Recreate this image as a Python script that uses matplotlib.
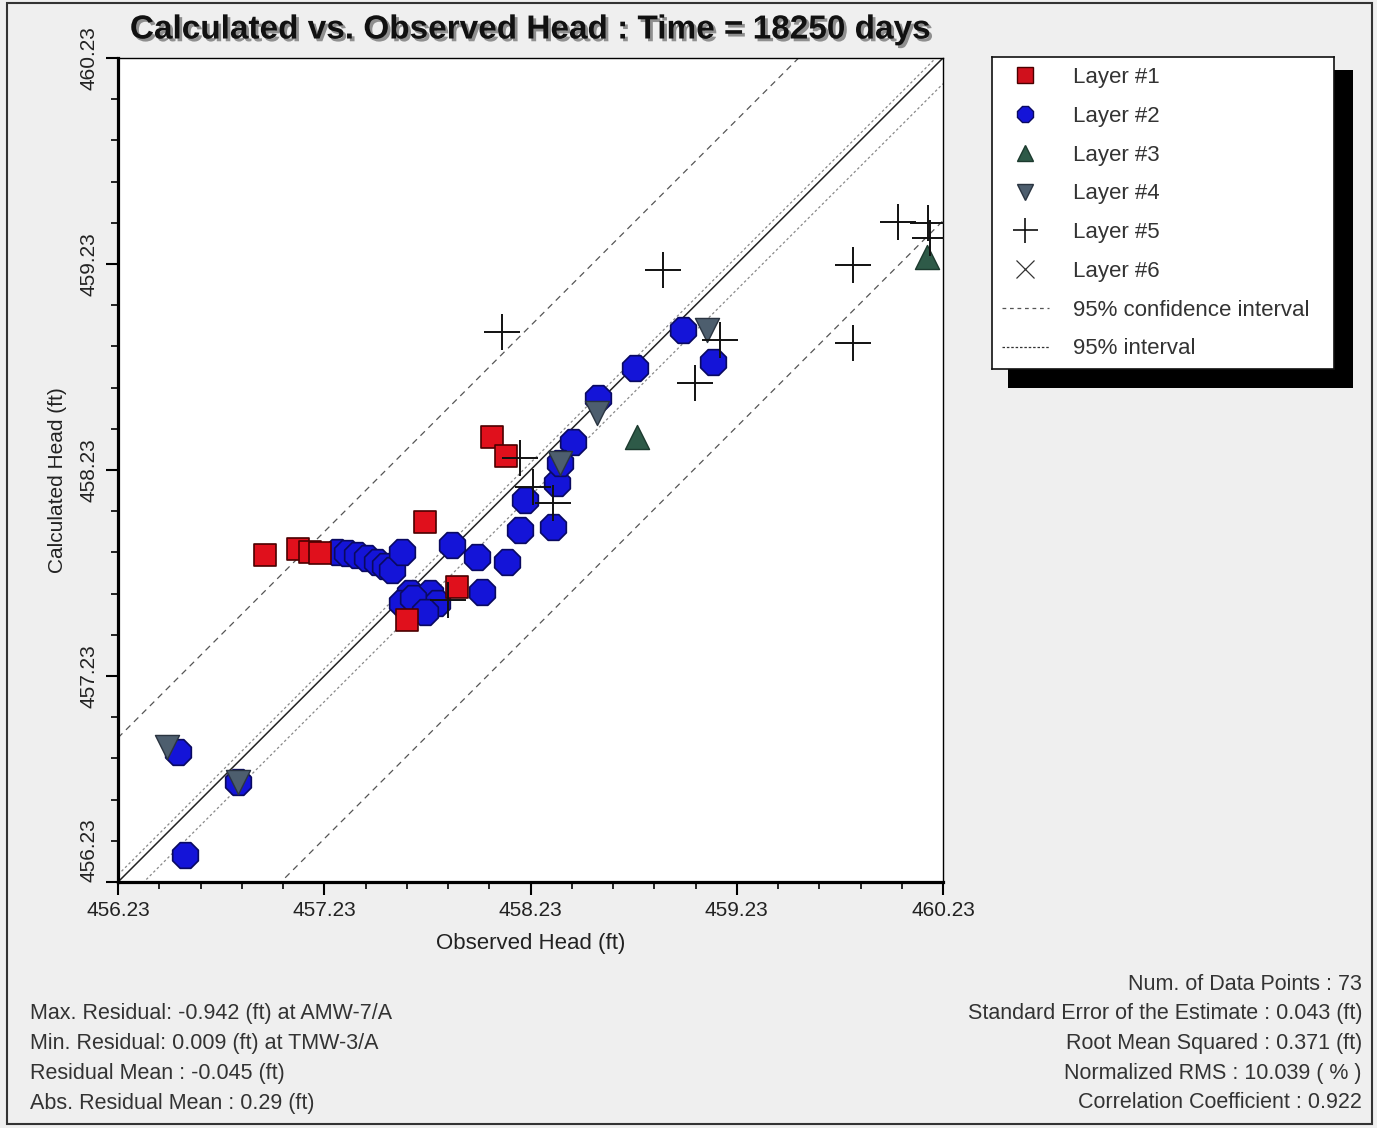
import matplotlib
matplotlib.use('Agg')
import matplotlib.pyplot as plt
import numpy as np
from matplotlib.lines import Line2D
from matplotlib.patches import Rectangle
from matplotlib.ticker import FixedLocator
import matplotlib.patheffects as pe

plt.rcParams['font.family'] = ['Liberation Sans', 'DejaVu Sans']

# ---------------- data ----------------
title = "Calculated vs. Observed Head : Time = 18250 days"
x_label = "Observed Head (ft)"
y_label = "Calculated Head (ft)"
axis_min, axis_max = 456.23, 460.23
major_ticks = [456.23, 457.23, 458.23, 459.23, 460.23]

l1_obs = [456.943, 457.103, 457.161, 457.209, 457.718, 458.043, 458.111, 457.874, 457.631]
l1_calc = [457.817, 457.847, 457.832, 457.827, 457.978, 458.390, 458.298, 457.662, 457.502]

l2_obs = [457.292, 457.340, 457.389, 457.437, 457.486, 457.525, 457.559, 457.607,
          457.646, 457.607, 457.694, 457.743, 457.777, 457.849, 457.971, 458.116,
          457.995, 458.179, 458.339, 458.203, 458.358, 458.436, 458.557, 458.737,
          458.969, 459.115, 456.521, 456.555, 456.812, 458.373, 457.660, 457.720]
l2_calc = [457.832, 457.827, 457.817, 457.803, 457.783, 457.764, 457.745, 457.832,
           457.633, 457.584, 457.565, 457.633, 457.584, 457.866, 457.808, 457.783,
           457.638, 457.939, 457.953, 458.084, 458.167, 458.366, 458.580, 458.725,
           458.910, 458.754, 456.861, 456.361, 456.716, 458.264, 457.610, 457.540]

l3_obs = [458.746, 460.152]
l3_calc = [458.390, 459.264]

l4_obs = [456.468, 456.812, 458.373, 458.552, 459.086]
l4_calc = [456.885, 456.716, 458.264, 458.507, 458.910]

l5_obs = [458.092, 458.872, 460.012, 460.157, 460.167, 459.794, 459.794, 459.149,
          459.028, 458.242, 458.339, 458.179, 457.830]
l5_calc = [458.900, 459.201, 459.434, 459.429, 459.356, 459.225, 458.847, 458.861,
           458.652, 458.147, 458.070, 458.288, 457.599]

conf_offsets = [0.70, -0.79]        # 95% confidence interval (outer)
interval_offsets = [0.035, -0.125]  # 95% interval (inner)

legend_labels = ["Layer #1", "Layer #2", "Layer #3", "Layer #4", "Layer #5",
                 "Layer #6", "95% confidence interval", "95% interval"]

left_stats = ["Max. Residual: -0.942 (ft) at AMW-7/A",
              "Min. Residual: 0.009 (ft) at TMW-3/A",
              "Residual Mean : -0.045 (ft)",
              "Abs. Residual Mean : 0.29 (ft)"]
right_stats = ["Num. of Data Points : 73",
               "Standard Error of the Estimate : 0.043 (ft)",
               "Root Mean Squared : 0.371 (ft)",
               "Normalized RMS : 10.039 ( % )",
               "Correlation Coefficient : 0.922"]

# ---------------- figure ----------------
W, H = 1377, 1128
fig = plt.figure(figsize=(W / 100, H / 100), dpi=100, facecolor='#efefef')


def fx(px):
    return px / W


def fy(py):
    return 1 - py / H


# frame around the panel
fig.patches.append(Rectangle((fx(7), fy(1124)), (1372 - 7) / W, (1124 - 3) / H,
                             transform=fig.transFigure, fill=False,
                             ec='#333333', lw=1.5, zorder=-5))

ax = fig.add_axes([fx(118), fy(882), (943 - 118) / W, (882 - 58) / H])
ax.set_facecolor('white')
ax.set_xlim(axis_min, axis_max)
ax.set_ylim(axis_min, axis_max)

minor = [axis_min + 0.2 * k for k in range(21)]
ax.xaxis.set_major_locator(FixedLocator(major_ticks))
ax.yaxis.set_major_locator(FixedLocator(major_ticks))
ax.xaxis.set_minor_locator(FixedLocator(minor))
ax.yaxis.set_minor_locator(FixedLocator(minor))
ax.set_xticklabels([f"{t:.2f}" for t in major_ticks])
ax.set_yticklabels([f"{t:.2f}" for t in major_ticks])
ax.tick_params(axis='both', which='major', direction='out', length=9, width=1.5,
               labelsize=15, labelcolor='#222222', pad=5)
ax.tick_params(axis='both', which='minor', direction='out', length=5, width=1.2)
ax.tick_params(axis='y', labelrotation=90)
for i, lab in enumerate(ax.get_yticklabels()):
    lab.set_va('bottom' if i == 0 else 'center')

for s in ['left', 'bottom']:
    ax.spines[s].set_linewidth(2.3)
for s in ['top', 'right']:
    ax.spines[s].set_linewidth(1.0)

# reference lines
xl = np.array([axis_min, axis_max])
ax.plot(xl, xl, color='#222222', lw=1.1, zorder=2)
for off in conf_offsets:
    ax.plot(xl, xl + off, color='#555555', lw=0.9, ls=(0, (5, 4)), zorder=2)
for off in interval_offsets:
    ax.plot(xl, xl + off, color='#888888', lw=0.9, ls=(0, (2, 2)), zorder=2)

# data
ax.scatter(l1_obs, l1_calc, marker='s', s=260, c='#e0101c', edgecolors='#4a0000',
           linewidths=1.2, zorder=4)
ax.scatter(l2_obs, l2_calc, marker='8', s=400, c='#1414d8', edgecolors='#0a0a60',
           linewidths=1.2, zorder=3)
ax.scatter(l3_obs, l3_calc, marker='^', s=300, c='#2e5a48', edgecolors='#1c3a2e',
           linewidths=1.0, zorder=5)
ax.scatter(l4_obs, l4_calc, marker='v', s=300, c='#4d5e6e', edgecolors='#2a3440',
           linewidths=1.0, zorder=5)
ax.scatter(l5_obs, l5_calc, marker='+', s=650, c='#111111', linewidths=1.4, zorder=6)

# title and axis labels
fig.text(fx(531), fy(30), title, fontsize=24, weight='bold', ha='center', va='center',
         color='#111111',
         path_effects=[pe.SimplePatchShadow(offset=(2, -2), shadow_rgbFace='#777777',
                                            alpha=0.8), pe.Normal()])
fig.text(fx(531), fy(943), x_label, fontsize=16, ha='center', va='center',
         color='#222222')
fig.text(fx(58), fy(480), y_label, fontsize=15, ha='center', va='center',
         rotation=90, color='#222222')

# legend with black drop shadow
shadow_ax = fig.add_axes([fx(1008), fy(388), (1353 - 1008) / W, (388 - 70) / H])
shadow_ax.set_facecolor('black')
shadow_ax.set_xticks([])
shadow_ax.set_yticks([])
for s in shadow_ax.spines.values():
    s.set_visible(False)

leg_ax = fig.add_axes([fx(992), fy(369), (1334 - 992) / W, (369 - 57) / H])
leg_ax.set_facecolor('white')
leg_ax.set_xticks([])
leg_ax.set_yticks([])
for s in leg_ax.spines.values():
    s.set_linewidth(1.2)
    s.set_color('#111111')

handles = [
    Line2D([], [], ls='none', marker='s', ms=11, mfc='#d0101c', mec='#4a0000'),
    Line2D([], [], ls='none', marker='8', ms=13, mfc='#1414d8', mec='#0a0a60'),
    Line2D([], [], ls='none', marker='^', ms=11, mfc='#2e5a48', mec='#1c3a2e'),
    Line2D([], [], ls='none', marker='v', ms=11, mfc='#4d5e6e', mec='#2a3440'),
    Line2D([], [], ls='none', marker='+', ms=18, color='#111111', mew=1.2),
    Line2D([], [], ls='none', marker='x', ms=13, color='#333333', mew=0.9),
    Line2D([], [], color='#555555', lw=0.9, ls=(0, (3, 3))),
    Line2D([], [], color='#333333', lw=0.9, ls=(0, (2, 1.5))),
]
leg_ax.legend(handles, legend_labels, loc='upper left', frameon=False, fontsize=16,
              labelspacing=0.8, handlelength=2.1, handletextpad=1.1,
              borderaxespad=0.05, labelcolor='#333333')

# statistics text
for i, t in enumerate(left_stats):
    fig.text(fx(30), fy(1013 + 30 * i), t, fontsize=15.5, ha='left', va='center',
             color='#333333')
for i, t in enumerate(right_stats):
    fig.text(fx(1362), fy(984 + 29.75 * i), t, fontsize=15.5, ha='right', va='center',
             color='#333333')

fig.savefig('out.png', dpi=100, facecolor=fig.get_facecolor())
